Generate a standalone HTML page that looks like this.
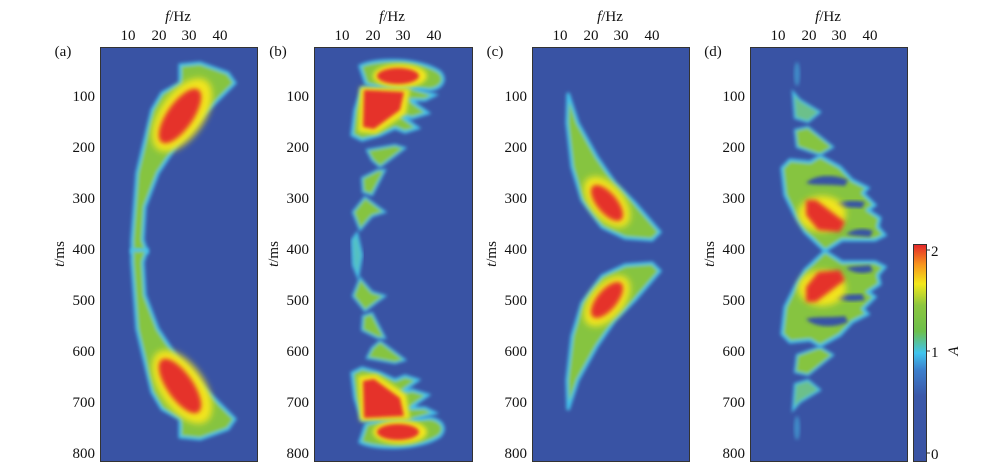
<!DOCTYPE html>
<html><head><meta charset="utf-8"><style>
html,body{margin:0;padding:0;background:#fff;}
svg{display:block;font-family:"Liberation Serif",serif;}
</style></head><body>
<svg width="1000" height="471" viewBox="0 0 1000 471" xmlns="http://www.w3.org/2000/svg">
<defs>
<filter id="b1" x="-20%" y="-20%" width="140%" height="140%"><feGaussianBlur stdDeviation="1.8"/></filter>
<filter id="b2" x="-30%" y="-30%" width="160%" height="160%"><feGaussianBlur stdDeviation="2.5"/></filter>
<filter id="b3" x="-30%" y="-30%" width="160%" height="160%"><feGaussianBlur stdDeviation="3.5"/></filter>
<linearGradient id="cb" x1="0" y1="1" x2="0" y2="0">
<stop offset="0" stop-color="#3a53a3"/><stop offset="0.3" stop-color="#3b58a9"/>
<stop offset="0.42" stop-color="#3c7fcc"/><stop offset="0.5" stop-color="#41c4ee"/>
<stop offset="0.6" stop-color="#6dbf4c"/><stop offset="0.72" stop-color="#8cc63f"/>
<stop offset="0.82" stop-color="#f3e81c"/><stop offset="0.91" stop-color="#f7941d"/>
<stop offset="1" stop-color="#e4282a"/></linearGradient>
<clipPath id="ca"><rect x="100" y="47" width="157" height="414"/></clipPath>
<clipPath id="cbp"><rect x="314" y="47" width="158" height="414"/></clipPath>
<clipPath id="cc"><rect x="532" y="47" width="157" height="414"/></clipPath>
<clipPath id="cd"><rect x="750" y="47" width="157" height="414"/></clipPath>
<g id="aTop">
<path d="M180,65 L200,63 L228,73 L235,83 L205,113 L178,143 L158,173 L145,207 L143,240 L147,252 L132,252 L132,240 L137,173 L152,110 L162,93 L180,83 Z" fill="#86c440" stroke="#45c3ec" stroke-width="3" filter="url(#b1)"/>
<ellipse cx="182" cy="115" rx="22" ry="42" transform="rotate(35 182 115)" fill="#f2e51c" filter="url(#b3)"/>
<ellipse cx="180" cy="116" rx="13" ry="32" transform="rotate(35 180 116)" fill="#e5302a" filter="url(#b2)"/>
</g>
<g id="bTop">
<path d="M360,66 C375,58 420,58 440,72 C447,80 442,88 430,90 L405,88 C390,86 375,88 366,84 Z" fill="#86c440" stroke="#45c3ec" stroke-width="3" filter="url(#b1)"/>
<path d="M362,88 L405,86 L435,95 L425,100 L410,100 L428,113 L412,118 L400,115 L418,128 L405,132 L395,128 L380,135 L362,140 L352,135 L355,110 Z" fill="#86c440" stroke="#45c3ec" stroke-width="3" filter="url(#b1)"/>
<ellipse cx="400" cy="76" rx="27" ry="12" fill="#f2e51c" filter="url(#b2)"/>
<ellipse cx="398" cy="76" rx="21" ry="8" fill="#e5302a" filter="url(#b1)"/>
<path d="M360,87 L410,89 L406,114 L376,134 L358,132 Z" fill="#f2e51c" filter="url(#b2)"/>
<path d="M364,90 L404,92 L400,110 L374,129 L363,127 Z" fill="#e5302a" filter="url(#b1)"/>
<path d="M367,150 L395,145 L405,148 L380,167 L372,160 Z" fill="#86c440" stroke="#45c3ec" stroke-width="2" filter="url(#b1)"/>
<path d="M362,178 L378,170 L385,170 L372,195 L363,192 Z" fill="#86c440" stroke="#45c3ec" stroke-width="2" filter="url(#b1)"/>
<path d="M353,212 L365,197 L378,207 L385,212 L372,216 L360,230 Z" fill="#86c440" stroke="#45c3ec" stroke-width="2" filter="url(#b1)"/>
</g>
<g id="cTop">
<path d="M568,93 L578,123 L597,157 L615,183 L635,203 L660,232 L652,240 L625,238 L602,227 L582,200 L572,167 L567,123 Z" fill="#86c440" stroke="#45c3ec" stroke-width="3" filter="url(#b1)"/>
<ellipse cx="607" cy="202" rx="17" ry="30" transform="rotate(-40 607 202)" fill="#f2e51c" filter="url(#b3)"/>
<ellipse cx="607" cy="203" rx="10" ry="22" transform="rotate(-40 607 203)" fill="#e5302a" filter="url(#b2)"/>
</g>
<g id="dTop">
<path d="M793,92 L800,100 L820,112 L808,122 L795,118 Z" fill="#6cc08a" stroke="#45c3ec" stroke-width="2" filter="url(#b1)"/>
<path d="M795,130 L808,127 L833,147 L820,155 L797,147 Z" fill="#86c440" stroke="#45c3ec" stroke-width="2" filter="url(#b1)"/>
<path d="M820,156 L840,167 L852,180 L868,188 L863,193 L875,205 L868,210 L880,218 L878,227 L885,235 L875,240 L842,240 L825,251 L805,232 L795,215 L785,195 L782,168 L790,160 L810,162 Z" fill="#86c440" stroke="#45c3ec" stroke-width="3" filter="url(#b1)"/>
<path d="M806,183 C815,174 835,174 848,180 L845,186 C830,184 815,186 806,183 Z" fill="#3953a4" filter="url(#b1)"/>
<path d="M830,208 C840,200 852,200 865,202 L862,208 C850,207 840,208 830,208 Z" fill="#3953a4" filter="url(#b1)"/>
<path d="M846,234 C855,228 865,228 873,231 L870,237 C862,236 852,236 846,234 Z" fill="#3953a4" filter="url(#b1)"/>
<ellipse cx="822" cy="214" rx="24" ry="18" fill="#f2e51c" filter="url(#b3)"/>
<path d="M806,200 L816,200 L845,222 L840,232 L818,230 L806,215 Z" fill="#e5302a" filter="url(#b2)"/>
</g>
</defs>
<rect x="100" y="47" width="157" height="414" fill="#3953a4"/>
<rect x="314" y="47" width="158" height="414" fill="#3953a4"/>
<rect x="532" y="47" width="157" height="414" fill="#3953a4"/>
<rect x="750" y="47" width="157" height="414" fill="#3953a4"/>
<g clip-path="url(#ca)"><use href="#aTop"/><use href="#aTop" transform="translate(0,502) scale(1,-1)"/></g>
<g clip-path="url(#cbp)"><use href="#bTop"/><use href="#bTop" transform="translate(0,508) scale(1,-1)"/>
<path d="M352,240 L357,233 L362,255 L358,277 L353,265 Z" fill="#55c0c0" stroke="#45c3ec" stroke-width="2" filter="url(#b1)"/></g>
<g clip-path="url(#cc)"><use href="#cTop"/><use href="#cTop" transform="translate(0,503) scale(1,-1)"/></g>
<g clip-path="url(#cd)"><use href="#dTop"/><use href="#dTop" transform="translate(0,502) scale(1,-1)"/>
<ellipse cx="797" cy="74" rx="3" ry="12" fill="#45b0e0" opacity="0.6" filter="url(#b1)"/>
<ellipse cx="797" cy="428" rx="3" ry="12" fill="#45b0e0" opacity="0.6" filter="url(#b1)"/></g>
<g fill="none" stroke="#333" stroke-width="1">
<rect x="100.5" y="47.5" width="157" height="414"/>
<rect x="314.5" y="47.5" width="158" height="414"/>
<rect x="532.5" y="47.5" width="157" height="414"/>
<rect x="750.5" y="47.5" width="157" height="414"/>
<rect x="913.5" y="244.5" width="13" height="217"/>
</g>
<rect x="914" y="245" width="12" height="216" fill="url(#cb)"/>
<g font-size="15" fill="#111">
<g id="ax">
<text x="178" y="21" text-anchor="middle"><tspan font-style="italic">f</tspan>/Hz</text>
<text x="128" y="40" text-anchor="middle">10</text><text x="159" y="40" text-anchor="middle">20</text>
<text x="189" y="40" text-anchor="middle">30</text><text x="220" y="40" text-anchor="middle">40</text>
<g text-anchor="end">
<text x="95" y="101">100</text><text x="95" y="152">200</text><text x="95" y="203">300</text>
<text x="95" y="254">400</text><text x="95" y="305">500</text><text x="95" y="356">600</text>
<text x="95" y="407">700</text><text x="95" y="458">800</text></g>
</g>
<use href="#ax" transform="translate(214,0)"/>
<use href="#ax" transform="translate(432,0)"/>
<use href="#ax" transform="translate(650,0)"/>
<text x="63" y="56" text-anchor="middle">(a)</text>
<text x="278" y="56" text-anchor="middle">(b)</text>
<text x="495" y="56" text-anchor="middle">(c)</text>
<text x="713" y="56" text-anchor="middle">(d)</text>
<text transform="translate(64,254) rotate(-90)" text-anchor="middle"><tspan font-style="italic">t</tspan>/ms</text>
<text transform="translate(278,254) rotate(-90)" text-anchor="middle"><tspan font-style="italic">t</tspan>/ms</text>
<text transform="translate(496,254) rotate(-90)" text-anchor="middle"><tspan font-style="italic">t</tspan>/ms</text>
<text transform="translate(714,254) rotate(-90)" text-anchor="middle"><tspan font-style="italic">t</tspan>/ms</text>
<text x="931" y="256">2</text><text x="931" y="357">1</text><text x="931" y="459">0</text>
<text transform="translate(958,351) rotate(-90)" text-anchor="middle" font-style="italic">A</text>
</g>
<g stroke="#333">
<line x1="926" y1="250" x2="930" y2="250"/><line x1="926" y1="351" x2="930" y2="351"/><line x1="926" y1="453" x2="930" y2="453"/>
</g>
</svg>
</body></html>
